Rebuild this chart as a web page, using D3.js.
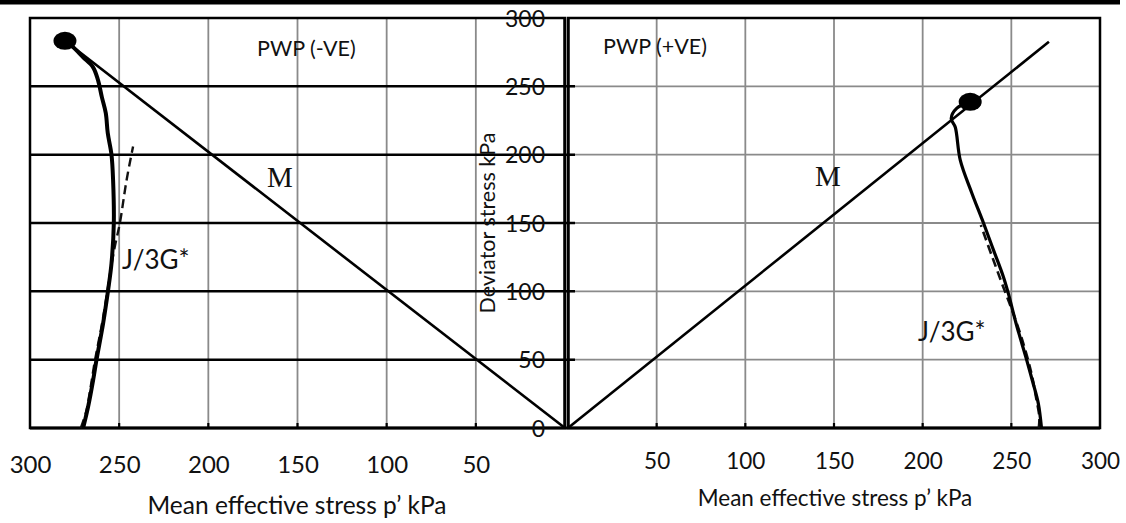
<!DOCTYPE html>
<html>
<head>
<meta charset="utf-8">
<script src="https://cdn.jsdelivr.net/npm/d3@7"></script>
<style>
  html, body { margin: 0; padding: 0; background: #fff; }
  svg { display: block; }
  text { font-family: Lato, "Open Sans", sans-serif; fill: #111; }
</style>
</head>
<body>
<svg id="chart" width="1126" height="523"></svg>
<script>
// ---- data ----
const pTicksLeft = [300, 250, 200, 150, 100, 50];
const pTicksRight = [50, 100, 150, 200, 250, 300];
const qTicks = [0, 50, 100, 150, 200, 250, 300];
const gridP = [50, 100, 150, 200, 250];
const gridQ = [50, 100, 150, 200, 250];

// PWP (-VE) panel: [p', q]
const leftMeasured = [[270.2,0],[267.4,15.6],[264.6,35],[262.7,50],[259,76.6],[256.2,101],[254.3,120.5],[253,150],[253.4,181],[254.3,200],[256.4,215.8],[257.5,230.4],[259.7,242.1],[261.9,254.7],[264.7,264.1],[270.3,271.4],[275.9,278.7],[280.4,283.3]];
const leftPredicted = [[271.5,0],[268.5,12],[266,30],[263.5,50],[259.8,75],[256.6,100],[254.5,118],[252.4,133],[249.6,150],[245.9,181],[242.2,206]];
const leftM = [[0,0],[280.4,283.3]];
const leftFailure = [280.4,283.3];

// PWP (+VE) panel: [p', q]
const rightMeasured = [[267,0],[265.2,18],[262,34],[258.6,50],[253,75],[248.3,98.5],[245.5,110.7],[240,130],[234.3,150],[227.7,172],[221.2,196],[218.4,220],[216.1,226.5],[219.3,234],[226.8,238.7]];
const rightPredicted = [[265.5,0],[265.8,8],[264,22],[261.5,39],[257.3,59.5],[251.6,82],[245.4,103.4],[239,126],[232.8,148.5]];
const rightM = [[0,0],[271.2,282.6]];
const rightFailure = [226.8,238.7];

const labels = {
  left: "PWP (-VE)", right: "PWP (+VE)", m: "M", j: "J/3G*",
  xTitle: "Mean effective stress p\u2019 kPa", yTitle: "Deviator stress kPa"
};

// ---- scales ----
const svg = d3.select("#chart");
const xL = d3.scaleLinear().domain([300, 0]).range([30, 565]);
const xR = d3.scaleLinear().domain([0, 300]).range([568, 1100]);
const y = d3.scaleLinear().domain([0, 300]).range([428, 18]);

// top rule
svg.append("rect").attr("x", 0).attr("y", 0).attr("width", 1120).attr("height", 4.5).attr("fill", "#000");

// ---- grids ----
const gray = "#8a8a8a";
svg.append("g").selectAll("line").data(gridP).join("line")
  .attr("x1", d => xL(d)).attr("x2", d => xL(d)).attr("y1", y(300)).attr("y2", y(0))
  .attr("stroke", gray).attr("stroke-width", 1.8);
svg.append("g").selectAll("line").data(gridP).join("line")
  .attr("x1", d => xR(d)).attr("x2", d => xR(d)).attr("y1", y(300)).attr("y2", y(0))
  .attr("stroke", gray).attr("stroke-width", 1.8);
svg.append("g").selectAll("line").data(gridQ).join("line")
  .attr("x1", xR(0)).attr("x2", xR(300)).attr("y1", d => y(d)).attr("y2", d => y(d))
  .attr("stroke", gray).attr("stroke-width", 1.8);
svg.append("g").selectAll("line").data(gridQ).join("line")
  .attr("x1", xL(300)).attr("x2", xR(0) + 7).attr("y1", d => y(d)).attr("y2", d => y(d))
  .attr("stroke", "#000").attr("stroke-width", 2.5);

// bottom ticks (black, inside)
svg.append("g").selectAll("line").data(gridP).join("line")
  .attr("x1", d => xL(d)).attr("x2", d => xL(d)).attr("y1", y(0)).attr("y2", y(0) - 5)
  .attr("stroke", "#000").attr("stroke-width", 2.2);
svg.append("g").selectAll("line").data(gridP).join("line")
  .attr("x1", d => xR(d)).attr("x2", d => xR(d)).attr("y1", y(0)).attr("y2", y(0) - 5)
  .attr("stroke", "#000").attr("stroke-width", 2.2);

// ---- frames ----
const frame = svg.append("g").attr("fill", "none").attr("stroke", "#000").attr("stroke-width", 2.5);
frame.append("path").attr("d", `M${xL(0)},${y(300)} H${xL(300)} V${y(0)} H${xL(0)} Z`);
frame.append("path").attr("d", `M${xR(0)},${y(300)} H${xR(300)} V${y(0)} H${xR(0)} Z`);
frame.append("line").attr("x1", xL(300)).attr("x2", xR(300)).attr("y1", y(0)).attr("y2", y(0)).attr("stroke-width", 2.8);

// ---- axes (labels) ----
const axL = svg.append("g").attr("transform", `translate(0,${y(0)})`)
  .call(d3.axisBottom(xL).tickValues(pTicksLeft).tickSize(0).tickFormat(d3.format("d")));
axL.select(".domain").remove();
axL.selectAll("text").attr("y", 37).attr("dy", "0.35em")
  .style("font-family", "Lato, sans-serif").style("font-size", "24px").attr("fill", "#111");

const axR = svg.append("g").attr("transform", `translate(0,${y(0)})`)
  .call(d3.axisBottom(xR).tickValues(pTicksRight).tickSize(0).tickFormat(d3.format("d")));
axR.select(".domain").remove();
axR.selectAll("text").attr("y", 33).attr("dy", "0.35em")
  .style("font-family", "Lato, sans-serif").style("font-size", "22.5px").attr("fill", "#111");

const axY = svg.append("g").attr("transform", `translate(${xL(0)},0)`)
  .call(d3.axisLeft(y).tickValues(qTicks).tickSize(0).tickPadding(20).tickFormat(d3.format("d")));
axY.select(".domain").remove();
axY.selectAll("text").attr("dy", "0.36em")
  .style("font-family", "Lato, sans-serif").style("font-size", "23px").attr("fill", "#111");

// ---- curves ----
const lineL = d3.line().x(d => xL(d[0])).y(d => y(d[1])).curve(d3.curveCatmullRom);
const lineR = d3.line().x(d => xR(d[0])).y(d => y(d[1])).curve(d3.curveCatmullRom);
const straightL = d3.line().x(d => xL(d[0])).y(d => y(d[1]));
const straightR = d3.line().x(d => xR(d[0])).y(d => y(d[1]));

svg.append("path").attr("d", straightL(leftM)).attr("fill", "none").attr("stroke", "#000").attr("stroke-width", 2.6);
svg.append("path").attr("d", straightR(rightM)).attr("fill", "none").attr("stroke", "#000").attr("stroke-width", 2.6);

svg.append("path").attr("d", lineL(leftPredicted)).attr("fill", "none").attr("stroke", "#111")
  .attr("stroke-width", 2.4).attr("stroke-dasharray", "9,5");
svg.append("path").attr("d", lineR(rightPredicted)).attr("fill", "none").attr("stroke", "#111")
  .attr("stroke-width", 2.6).attr("stroke-dasharray", "9,5");

svg.append("path").attr("d", lineL(leftMeasured)).attr("fill", "none").attr("stroke", "#000").attr("stroke-width", 4);
svg.append("path").attr("d", lineR(rightMeasured)).attr("fill", "none").attr("stroke", "#000").attr("stroke-width", 3.2);

svg.append("ellipse").attr("cx", xL(leftFailure[0])).attr("cy", y(leftFailure[1])).attr("rx", 11.5).attr("ry", 9).attr("fill", "#000");
svg.append("ellipse").attr("cx", xR(rightFailure[0])).attr("cy", y(rightFailure[1])).attr("rx", 11.5).attr("ry", 9).attr("fill", "#000");

// central double axis line
svg.append("line").attr("x1", 564.5).attr("x2", 564.5).attr("y1", y(300) - 1).attr("y2", y(0) + 1).attr("stroke", "#000").attr("stroke-width", 2.4);
svg.append("line").attr("x1", 568.5).attr("x2", 568.5).attr("y1", y(300) - 1).attr("y2", y(0) + 1).attr("stroke", "#000").attr("stroke-width", 2.4);

// ---- text annotations ----
svg.append("text").attr("x", 257).attr("y", 48).attr("dy", "0.35em").style("font-size", "21.5px").text(labels.left);
svg.append("text").attr("x", 603).attr("y", 46).attr("dy", "0.35em").style("font-size", "21.5px").text(labels.right);

svg.append("text").attr("x", 280).attr("y", 177).attr("dy", "0.35em").attr("text-anchor", "middle")
  .style("font-family", "'Liberation Serif', 'DejaVu Serif', serif").style("font-size", "29px").text(labels.m);
svg.append("text").attr("x", 828).attr("y", 176).attr("dy", "0.35em").attr("text-anchor", "middle")
  .style("font-family", "'Liberation Serif', 'DejaVu Serif', serif").style("font-size", "29px").text(labels.m);

svg.append("text").attr("x", 122).attr("y", 260).attr("dy", "0.35em").style("font-size", "26px").text(labels.j);
svg.append("text").attr("x", 918).attr("y", 332).attr("dy", "0.35em").style("font-size", "26px").text(labels.j);

svg.append("text").attr("x", 297).attr("y", 505).attr("dy", "0.35em").attr("text-anchor", "middle")
  .style("font-size", "24.5px").text(labels.xTitle);
svg.append("text").attr("x", 835).attr("y", 498).attr("dy", "0.35em").attr("text-anchor", "middle")
  .style("font-size", "22.5px").text(labels.xTitle);

svg.append("text").attr("transform", "translate(487,223) rotate(-90)").attr("dy", "0.35em").attr("text-anchor", "middle")
  .style("font-size", "21.5px").text(labels.yTitle);
</script>
</body>
</html>
